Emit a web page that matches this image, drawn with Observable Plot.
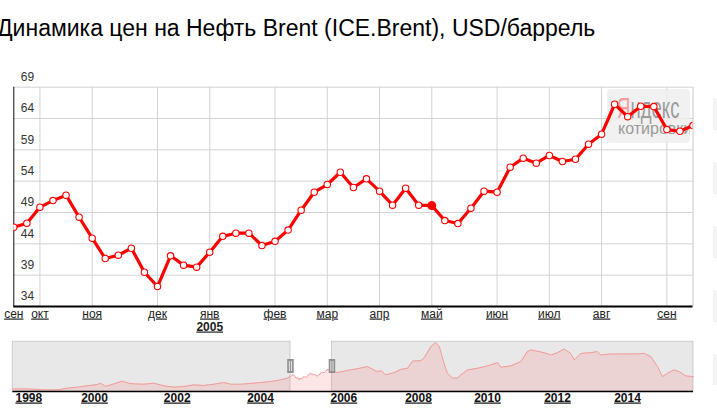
<!DOCTYPE html>
<html><head><meta charset="utf-8">
<script src="https://cdn.jsdelivr.net/npm/d3@7"></script>
<script src="https://cdn.jsdelivr.net/npm/@observablehq/plot@0.6"></script>
<style>
body{margin:0;background:#fff;font-family:"Liberation Sans",Arial,sans-serif;}
#wrap{position:relative;width:717px;height:410px;overflow:hidden;background:#fff;}
.abs{position:absolute;}
#title{left:-3px;top:14px;font-size:23px;line-height:28px;color:#000;white-space:nowrap;}
.side{left:713px;width:10px;background:#f3f3f3;}
#wm{left:607px;top:89px;width:83px;height:54px;background:rgba(238,238,238,0.8);border-radius:4px;overflow:hidden;}
#wm1{position:absolute;left:9.5px;top:6.5px;font-size:29px;line-height:24px;white-space:nowrap;transform:scaleX(0.64);transform-origin:left top;color:#9c9c9c;}
#wm2{position:absolute;left:11px;top:32px;font-size:16px;line-height:16px;white-space:nowrap;color:#9a9a9a;}
</style></head><body>
<div id="wrap">
  <div id="title" class="abs">Динамика цен на Нефть Brent (ICE.Brent), USD/баррель</div>
  <div class="abs side" style="top:98px;height:32px"></div>
  <div class="abs side" style="top:162px;height:32px"></div>
  <div class="abs side" style="top:226px;height:32px"></div>
  <div class="abs side" style="top:290px;height:32px"></div>
  <div class="abs side" style="top:354px;height:31px"></div>
  <div id="grid" class="abs" style="left:0;top:60px"></div>
  <div id="wm" class="abs"><div id="wm1"><span style="color:#f49c9c">Я</span>ндекс</div><div id="wm2">котировки</div></div>
  <div id="lines" class="abs" style="left:0;top:60px"></div>
  <div id="nav" class="abs" style="left:0;top:335px"></div>
</div>
<script>
// ---- main weekly series (Sep 2004 – Sep 2005) ----
const weeks = ["2004-09-20","2004-09-27","2004-10-04","2004-10-11","2004-10-18","2004-10-25","2004-11-01","2004-11-08","2004-11-15","2004-11-22","2004-11-29","2004-12-06","2004-12-13","2004-12-20","2004-12-27",
"2005-01-03","2005-01-10","2005-01-17","2005-01-24","2005-01-31","2005-02-07","2005-02-14","2005-02-21","2005-02-28","2005-03-07","2005-03-14","2005-03-21","2005-03-28","2005-04-04","2005-04-11","2005-04-18","2005-04-25","2005-05-02","2005-05-09","2005-05-16","2005-05-23","2005-05-30","2005-06-06","2005-06-13","2005-06-20","2005-06-27","2005-07-04","2005-07-11","2005-07-18","2005-07-25","2005-08-01","2005-08-08","2005-08-15","2005-08-22","2005-08-29","2005-09-05","2005-09-12","2005-09-19"];
const prices = [46.65,47.3,49.85,50.9,51.77,48.25,44.9,41.66,42.19,43.3,39.47,37.19,42.09,40.6,40.28,42.67,45.2,45.7,45.7,43.73,44.4,46.2,49.37,52.24,53.47,55.43,52.99,54.37,52.4,50.17,52.88,50.17,50.1,47.72,47.24,49.69,52.4,52.24,56.23,57.67,56.87,58.1,57.14,57.5,59.9,61.5,66.28,64.3,65.96,65.9,62.24,61.97,62.88];
const selectedWeek = "2005-05-02";

// ---- axis ticks ----
const monthTicks = ["2004-09-20","2004-10-04","2004-11-01","2004-12-06","2005-01-03","2005-02-07","2005-03-07","2005-04-04","2005-05-02","2005-06-06","2005-07-04","2005-08-01","2005-09-05"];
const monthLabels = ["сен","окт","ноя","дек","янв","фев","мар","апр","май","июн","июл","авг","сен"];
const yTicks = [34,39,44,49,54,59,64,69];
const yearTick = "2005-01-03", yearLabel = "2005";

// ---- navigator (overview) series ----
const navPreDates = ["1997-07-08","1997-11-06","1998-02-24","1998-06-18","1998-10-05","1998-12-16","1999-03-03","1999-06-20","1999-10-12","2000-01-26","2000-02-24","2000-04-08","2000-06-20","2000-09-02","2000-10-30","2000-12-13","2001-03-11","2001-06-07","2001-09-06","2001-12-02","2002-02-28","2002-05-27","2002-08-22","2002-11-18","2003-02-14","2003-04-13","2003-07-09","2003-10-04","2004-01-01","2004-03-29","2004-06-24","2004-08-22"];
const navPreValues = [12.3,12.3,11.4,9.6,9.6,10.5,14.2,16.9,20.6,24.2,27.9,18.7,26.1,33.4,27.9,26.1,25.1,27.9,20.6,16.9,18.7,23.3,21.5,25.1,29.7,25.1,25.1,27,29.7,32.5,37,41.6];
const navPostDates = ["2005-11-03","2006-01-01","2006-02-28","2006-05-18","2006-08-18","2006-11-24","2007-01-05","2007-02-13","2007-05-08","2007-07-13","2007-09-16","2007-11-06","2008-01-26","2008-03-04","2008-05-12","2008-07-01","2008-08-08","2008-09-27","2008-11-02","2008-12-28","2009-02-17","2009-03-26","2009-06-03","2009-09-16","2010-01-01","2010-04-16","2010-05-19","2010-09-02","2010-12-14","2011-02-21","2011-03-29","2011-08-15","2011-10-23","2012-01-01","2012-03-10","2012-05-19","2012-06-24","2012-09-02","2012-12-14","2013-02-21","2013-03-29","2013-07-08","2013-11-24","2014-04-16","2014-06-24","2014-09-02","2014-11-10","2015-01-01","2015-02-21","2015-05-01","2015-06-24","2015-09-02","2015-11-21"];
const navPostValues = [57.2,60.9,64.5,68,73.7,60,62,51,57,66,69,89,90,99,129,140,129,83,55,42,42,51,64.5,69,75.5,84.7,72,75.5,87.4,115,119.5,112,105.7,112,122,110,92,110,112,115,105.7,108.5,108.5,108.5,110,101,74,46,55,64.5,60,48,46];
const navYears = [1998,2000,2002,2004,2006,2008,2010,2012,2014];

const D = s => new Date(s + "T00:00:00Z");
const series = weeks.map((w, i) => ({date: D(w), value: prices[i]}));
const months = monthTicks.map((m, i) => ({date: D(m), label: monthLabels[i]}));
const xStart = D(weeks[0]), xEnd = D(weeks[weeks.length - 1]);

const svgStyle = {fontFamily: "'Liberation Sans', Arial, sans-serif", fontSize: "12px", background: "transparent", overflow: "visible"};
const common = {
  width: 717, height: 280, marginLeft: 13.3, marginRight: 24.5, marginTop: 26.7, marginBottom: 34,
  x: {type: "utc", domain: [xStart, xEnd], range: [13.3, 692.5], axis: null},
  y: {domain: [34, 69], range: [246, 26.7], axis: null},
  style: svgStyle
};

const underline = new Set([...monthLabels, yearLabel, ...navYears.map(String)]);
function ul(svg) {
  d3.select(svg).selectAll("text").filter(function () { return underline.has(this.textContent); })
    .style("text-decoration", "underline");
  return svg;
}

const grid = Plot.plot({
  ...common,
  marks: [
    Plot.ruleY(yTicks.slice(1), {stroke: "#d3d3d3"}),
    Plot.ruleX(months.slice(1), {x: "date", stroke: "#d3d3d3"}),
    Plot.ruleX([xEnd], {stroke: "#c8c8c8"}),
    Plot.ruleX([xStart], {stroke: "#111"}),
    Plot.ruleY([34], {stroke: "#000", strokeWidth: 2}),
    Plot.text(yTicks, {y: d => d, frameAnchor: "left", textAnchor: "start", dx: 7, dy: -10, fill: "#333"}),
    Plot.text(months, {x: "date", text: "label", frameAnchor: "bottom", dy: 11, fill: "#222"}),
    Plot.text([{date: D(yearTick), label: yearLabel}], {x: "date", text: "label", frameAnchor: "bottom", dy: 24, fill: "#222", fontWeight: "bold"})
  ]
});
document.getElementById("grid").append(ul(grid));

const lines = Plot.plot({
  ...common,
  marks: [
    Plot.line(series, {x: "date", y: "value", stroke: "#ff0000", strokeWidth: 3.2, clip: true}),
    Plot.dot(series, {x: "date", y: "value", r: 3.2, fill: "#fff", stroke: "#ff0000", strokeWidth: 1.1, clip: true}),
    Plot.dot(series.filter(d => +d.date === +D(selectedWeek)), {x: "date", y: "value", r: 4.5, fill: "#ff0000"})
  ]
});
document.getElementById("lines").append(lines);

// ---- navigator ----
const navSeries = [
  ...navPreDates.map((s, i) => ({date: D(s), value: navPreValues[i]})),
  ...series,
  ...navPostDates.map((s, i) => ({date: D(s), value: navPostValues[i]}))
];
const navStart = navSeries[0].date, navEnd = navSeries[navSeries.length - 1].date;
const boxes = [{x1: navStart, x2: xStart}, {x1: xEnd, x2: navEnd}];
const edges = [xStart, xEnd];

const nav = Plot.plot({
  width: 717, height: 75, marginLeft: 12.7, marginRight: 24, marginTop: 6.3, marginBottom: 19,
  x: {type: "utc", domain: navYears.map(y => new Date(Date.UTC(y, 0, 1))),
      range: [28.3, 94, 176.7, 260, 343.3, 418, 487, 557, 627], axis: null},
  y: {domain: [5, 142], range: [56, 6.3], axis: null},
  style: svgStyle,
  marks: [
    Plot.rect(boxes, {x1: "x1", x2: "x2", y1: 5, y2: 142, fill: "#e8e8e8", stroke: "#cccccc"}),
    Plot.areaY(navSeries, {x: "date", y1: 5, y2: "value", fill: "#ff8080", fillOpacity: 0.2}),
    Plot.line(navSeries, {x: "date", y: "value", stroke: "#f29a9a", strokeWidth: 1}),
    Plot.ruleY([5], {x1: navStart, x2: navEnd, stroke: "#000", strokeWidth: 1.6}),
    Plot.ruleX(edges, {x: d => d, y1: 54.6, y2: 93.2, stroke: "#8f8f8f", strokeWidth: 6.5}),
    Plot.ruleX(edges, {x: d => d, y1: 60, y2: 88, dx: -1.1, stroke: "#fff", strokeWidth: 0.8}),
    Plot.ruleX(edges, {x: d => d, y1: 60, y2: 88, dx: 1.1, stroke: "#fff", strokeWidth: 0.8}),
    Plot.text(navYears, {x: d => new Date(Date.UTC(d, 0, 1)), text: d => String(d), frameAnchor: "bottom", dy: 10, fill: "#111", fontWeight: "bold"})
  ]
});
document.getElementById("nav").append(ul(nav));
</script>
</body></html>
